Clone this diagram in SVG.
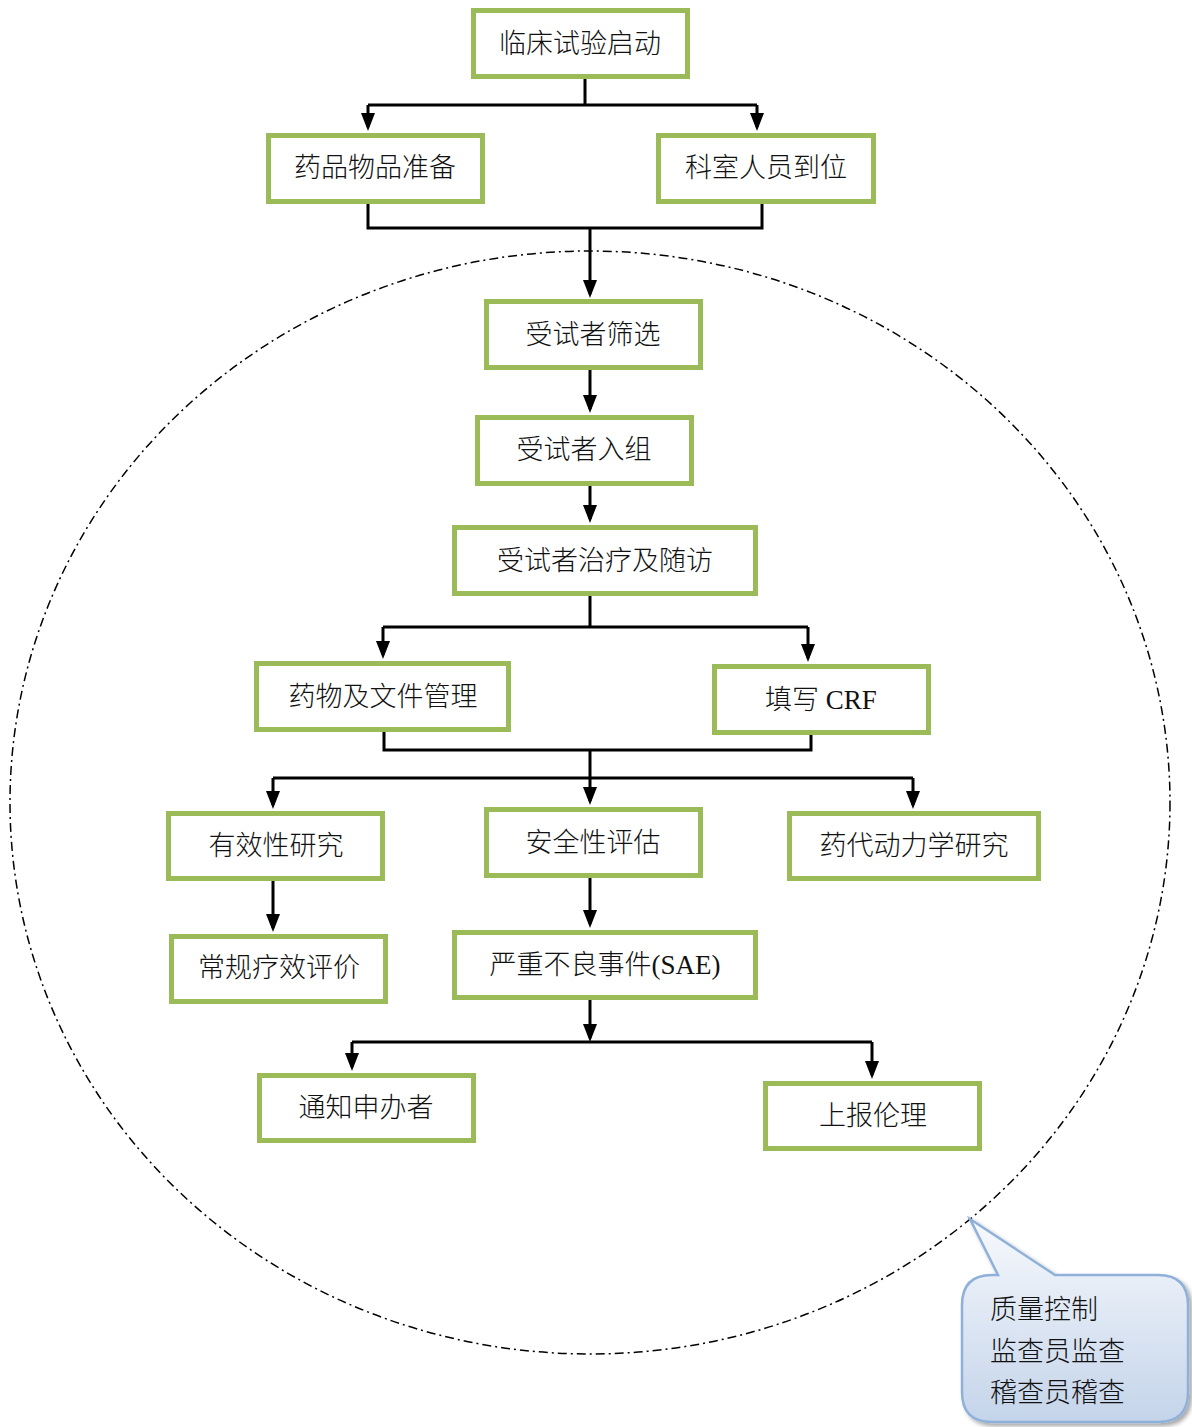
<svg xmlns="http://www.w3.org/2000/svg" width="1192" height="1427" viewBox="0 0 1192 1427">
<defs>
<style>
.box{fill:#ffffff;stroke:#9BBB59;stroke-width:5}
.lbl{font-family:"Liberation Serif","Noto Sans CJK SC",serif;font-size:27px;font-weight:300;fill:#111;text-anchor:middle;dominant-baseline:central}
.con{fill:none;stroke:#000;stroke-width:3}
.arr{fill:none;stroke:#000;stroke-width:3;marker-end:url(#ah)}
.ctext{font-family:"Liberation Serif","Noto Sans CJK SC",serif;font-size:27px;font-weight:300;fill:#111;dominant-baseline:central}
</style>
<marker id="ah" viewBox="0 0 18 14" refX="14" refY="7" markerWidth="18" markerHeight="14" markerUnits="userSpaceOnUse" orient="auto">
<path d="M0,0 L18,7 L0,14 z" fill="#000"/>
</marker>
<linearGradient id="cg" x1="0" y1="0" x2="0" y2="1">
<stop offset="0" stop-color="#f7f9fd"/>
<stop offset="1" stop-color="#c4d4ea"/>
</linearGradient>
<filter id="sh" x="-10%" y="-10%" width="130%" height="130%">
<feGaussianBlur in="SourceAlpha" stdDeviation="2"/>
<feOffset dx="3" dy="3"/>
<feComponentTransfer><feFuncA type="linear" slope="0.35"/></feComponentTransfer>
<feMerge><feMergeNode/><feMergeNode in="SourceGraphic"/></feMerge>
</filter>
</defs>
<rect width="1192" height="1427" fill="#ffffff"/>

<ellipse id="qc-region" cx="590" cy="802.5" rx="580" ry="551.5" fill="none" stroke="#000" stroke-width="1.5" stroke-dasharray="9 4 2 4"/>

<g id="connectors">
<path class="con" d="M585,79 V105 M368,105 H757"/>
<path class="arr" d="M368,105 V127"/>
<path class="arr" d="M757,105 V127"/>
<path class="con" d="M368,204 V228 H762 V204"/>
<path class="arr" d="M590,228 V294"/>
<path class="arr" d="M590,370 V409"/>
<path class="arr" d="M590,486 V519"/>
<path class="con" d="M590,596 V627 M383,627 H808"/>
<path class="arr" d="M383,627 V655"/>
<path class="arr" d="M808,627 V658"/>
<path class="con" d="M384,732 V750 H811 V735 M590,750 V778 M273,778 H913"/>
<path class="arr" d="M273,778 V805"/>
<path class="arr" d="M590,778 V801"/>
<path class="arr" d="M913,778 V805"/>
<path class="arr" d="M273,881 V928"/>
<path class="arr" d="M590,878 V924"/>
<path class="arr" d="M590,1000 V1038"/>
<path class="con" d="M352,1042 H872"/>
<path class="arr" d="M352,1042 V1067"/>
<path class="arr" d="M872,1042 V1075"/>
</g>

<g id="n1"><rect class="box" x="473.5" y="10.5" width="214" height="66"/><text class="lbl" x="580" y="44">临床试验启动</text></g>
<g id="n2"><rect class="box" x="268.5" y="135.5" width="214" height="66"/><text class="lbl" x="375" y="168">药品物品准备</text></g>
<g id="n3"><rect class="box" x="658.5" y="135.5" width="215" height="66"/><text class="lbl" x="766" y="168">科室人员到位</text></g>
<g id="n4"><rect class="box" x="486.5" y="301.5" width="214" height="66"/><text class="lbl" x="593" y="335">受试者筛选</text></g>
<g id="n5"><rect class="box" x="477.5" y="417.5" width="214" height="66"/><text class="lbl" x="584" y="450">受试者入组</text></g>
<g id="n6"><rect class="box" x="454.5" y="527.5" width="301" height="66"/><text class="lbl" x="605" y="561">受试者治疗及随访</text></g>
<g id="n7"><rect class="box" x="256.5" y="663.5" width="252" height="66"/><text class="lbl" x="383" y="697">药物及文件管理</text></g>
<g id="n8"><rect class="box" x="714.5" y="666.5" width="214" height="66"/><text class="lbl" x="821" y="700">填写 CRF</text></g>
<g id="n9"><rect class="box" x="168.5" y="813.5" width="214" height="65"/><text class="lbl" x="276" y="846">有效性研究</text></g>
<g id="n10"><rect class="box" x="486.5" y="809.5" width="214" height="66"/><text class="lbl" x="593" y="843">安全性评估</text></g>
<g id="n11"><rect class="box" x="789.5" y="813.5" width="249" height="65"/><text class="lbl" x="914" y="846">药代动力学研究</text></g>
<g id="n12"><rect class="box" x="171.5" y="936.5" width="214" height="65"/><text class="lbl" x="279" y="968">常规疗效评价</text></g>
<g id="n13"><rect class="box" x="454.5" y="932.5" width="301" height="65"/><text class="lbl" x="605" y="965">严重不良事件(SAE)</text></g>
<g id="n14"><rect class="box" x="259.5" y="1075.5" width="214" height="65"/><text class="lbl" x="366" y="1108">通知申办者</text></g>
<g id="n15"><rect class="box" x="765.5" y="1083.5" width="214" height="65"/><text class="lbl" x="873" y="1116">上报伦理</text></g>

<g id="callout">
<path d="M992,1275 L998,1275 L970,1219 L1055,1275 L1158,1275 Q1188,1275 1188,1305 L1188,1392 Q1188,1422 1158,1422 L992,1422 Q962,1422 962,1392 L962,1305 Q962,1275 992,1275 Z" fill="url(#cg)" stroke="#8fb1d9" stroke-width="2.5" filter="url(#sh)"/>
<text class="ctext" x="990" y="1310">质量控制</text>
<text class="ctext" x="990" y="1352">监查员监查</text>
<text class="ctext" x="990" y="1393">稽查员稽查</text>
</g>
</svg>
